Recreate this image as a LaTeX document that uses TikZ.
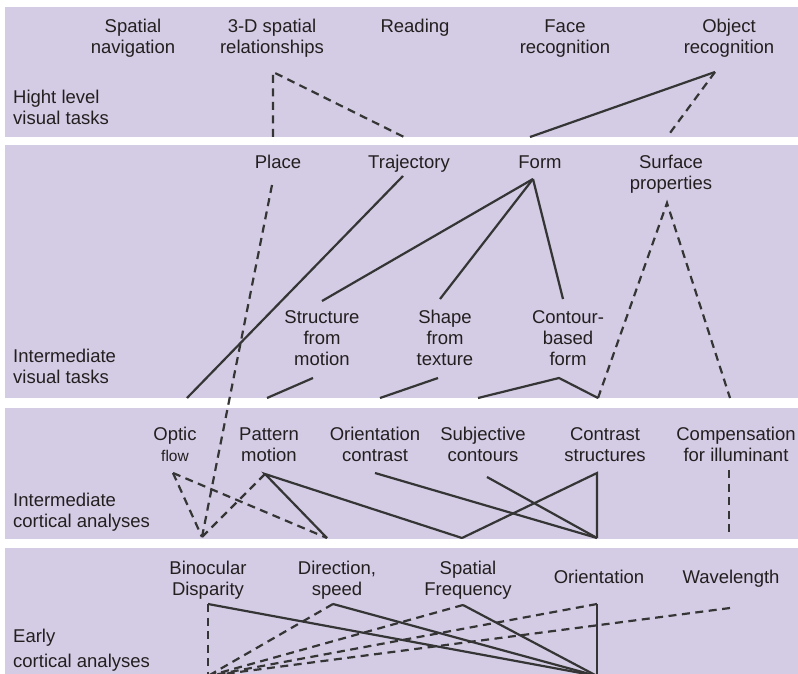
\documentclass[tikz,border=0pt]{standalone}
\usepackage{fontspec}
\setmainfont{Liberation Sans}
\definecolor{band}{HTML}{D4CCE4}
\definecolor{ink}{HTML}{353535}
\definecolor{txt}{HTML}{231F20}
\newcommand\cstack[1]{\begin{tabular}[t]{@{}c@{}}#1\end{tabular}}
\newcommand\lstack[1]{\begin{tabular}[t]{@{}l@{}}#1\end{tabular}}
\begin{document}
\begin{tikzpicture}[x=1pt,y=-1pt,
  lbl/.style={inner sep=0pt, anchor=base, text=txt, font=\fontsize{18.5}{21}\selectfont},
  side/.style={lbl, anchor=base west},
  conn/.style={draw=ink, line width=2.2pt},
  dsh/.style={conn, dash pattern=on 8pt off 5.5pt}]
\useasboundingbox (0,0) rectangle (798,674);
% bands
\fill[band] (5,7) rectangle (798,137);
\fill[band] (5,145) rectangle (798,398);
\fill[band] (5,408) rectangle (798,539);
\fill[band] (5,548) rectangle (798,674);
% coordinates - band 1
\coordinate (tdA) at (273,72);
\coordinate (tdL) at (273,137);
\coordinate (tdR) at (404,137);
\coordinate (obA) at (715,72);
\coordinate (obL) at (530,137);
\coordinate (obR) at (667,137);
% band 2
\coordinate (plA) at (272,185);
\coordinate (trA) at (403,176);
\coordinate (trB) at (187,398);
\coordinate (fmA) at (533,179);
\coordinate (sfmT) at (322,301);
\coordinate (sftT) at (440,299);
\coordinate (cbfT) at (563,299);
\coordinate (spA) at (667,203);
\coordinate (spL) at (598,398);
\coordinate (spR) at (730,398);
\coordinate (sfmA) at (313,378);
\coordinate (sfmB) at (267,398);
\coordinate (sftA) at (438,378);
\coordinate (sftB) at (380,398);
\coordinate (cbfA) at (559,378);
\coordinate (cbfL) at (478,398);
% band 3
\coordinate (ofA) at (173,473);
\coordinate (pmA) at (265,474);
\coordinate (ocA) at (375,473);
\coordinate (scA) at (487,477);
\coordinate (csA) at (597,473);
\coordinate (cpA) at (729,470);
\coordinate (cpB) at (729,535);
\coordinate (bdC) at (202,537);
\coordinate (dsC) at (327,538);
\coordinate (sfC) at (462,538);
\coordinate (orC) at (597,538);
% band 4
\coordinate (bdA) at (208,604);
\coordinate (dsA) at (333,604);
\coordinate (sfA) at (463,605);
\coordinate (otA) at (597,604);
\coordinate (wlA) at (730,608);
\coordinate (dashC) at (208,676);
\coordinate (solC) at (597,676);
% connectors band 1
\draw[dsh] (tdL) -- (tdA) -- (tdR);
\draw[conn] (obA) -- (obL);
\draw[dsh] (obA) -- (obR);
% band 2
\draw[dsh] (plA) -- (bdC);
\draw[conn] (trA) -- (trB);
\draw[conn] (fmA) -- (sfmT);
\draw[conn] (fmA) -- (sftT);
\draw[conn] (fmA) -- (cbfT);
\draw[dsh] (spL) -- (spA) -- (spR);
\draw[conn] (sfmA) -- (sfmB);
\draw[conn] (sftA) -- (sftB);
\draw[conn] (cbfL) -- (cbfA) -- (spL);
% band 3
\draw[dsh] (ofA) -- (bdC);
\draw[dsh] (ofA) -- (dsC);
\draw[dsh] (pmA) -- (bdC);
\draw[conn] (dsC) -- (pmA) -- (sfC);
\draw[conn] (ocA) -- (orC);
\draw[conn] (scA) -- (orC);
\draw[conn] (sfC) -- (csA) -- (orC);
\draw[dsh] (cpA) -- (cpB);
% band 4
\draw[dsh] (bdA) -- (dashC);
\draw[dsh] (dsA) -- (dashC);
\draw[dsh] (sfA) -- (dashC);
\draw[dsh] (otA) -- (dashC);
\draw[dsh] (wlA) -- (dashC);
\draw[conn] (bdA) -- (solC);
\draw[conn] (dsA) -- (solC);
\draw[conn] (sfA) -- (solC);
\draw[conn] (otA) -- (solC);
% texts band 1
\node[lbl] (t-sn) at (133,33) {\cstack{Spatial\\navigation}};
\node[lbl] (t-3d) at (272,33) {\cstack{3-D spatial\\relationships}};
\node[lbl] (t-rd) at (415,33) {Reading};
\node[lbl] (t-fr) at (565,33) {\cstack{Face\\recognition}};
\node[lbl] (t-ob) at (729,33) {\cstack{Object\\recognition}};
\node[side] (t-hl) at (13,104) {\lstack{Hight level\\visual tasks}};
% band 2
\node[lbl] (t-pl) at (278,168) {Place};
\node[lbl] (t-tr) at (409,168) {Trajectory};
\node[lbl] (t-fm) at (540,168) {Form};
\node[lbl] (t-sp) at (671,168) {\cstack{Surface\\properties}};
\node[lbl] (t-sfm) at (322,323) {\cstack{Structure\\from\\motion}};
\node[lbl] (t-sft) at (445,323) {\cstack{Shape\\from\\texture}};
\node[lbl] (t-cbf) at (568,323) {\cstack{Contour-\\based\\form}};
\node[side] (t-ivt) at (13,362) {\lstack{Intermediate\\visual tasks}};
% band 3
\node[lbl] (t-of) at (175,440) {\cstack{Optic\\{\fontsize{15.5}{21}\selectfont flow}}};
\node[lbl] (t-pm) at (269,440) {\cstack{Pattern\\motion}};
\node[lbl] (t-oc) at (375,440) {\cstack{Orientation\\contrast}};
\node[lbl] (t-sc) at (483,440) {\cstack{Subjective\\contours}};
\node[lbl] (t-cs) at (605,440) {\cstack{Contrast\\structures}};
\node[lbl] (t-cp) at (736,440) {\cstack{Compensation\\for illuminant}};
\node[side] (t-ica) at (13,506) {\lstack{Intermediate\\cortical analyses}};
% band 4
\node[lbl] (t-bd) at (208,574) {\cstack{Binocular\\Disparity}};
\node[lbl] (t-ds) at (337,574) {\cstack{Direction,\\speed}};
\node[lbl] (t-sf) at (468,574) {\cstack{Spatial\\Frequency}};
\node[lbl] (t-ot) at (599,583) {Orientation};
\node[lbl] (t-wl) at (731,583) {Wavelength};
\node[side] (t-eca) at (13,642) {\lstack{Early\\[4pt]cortical analyses}};
\end{tikzpicture}
\end{document}
